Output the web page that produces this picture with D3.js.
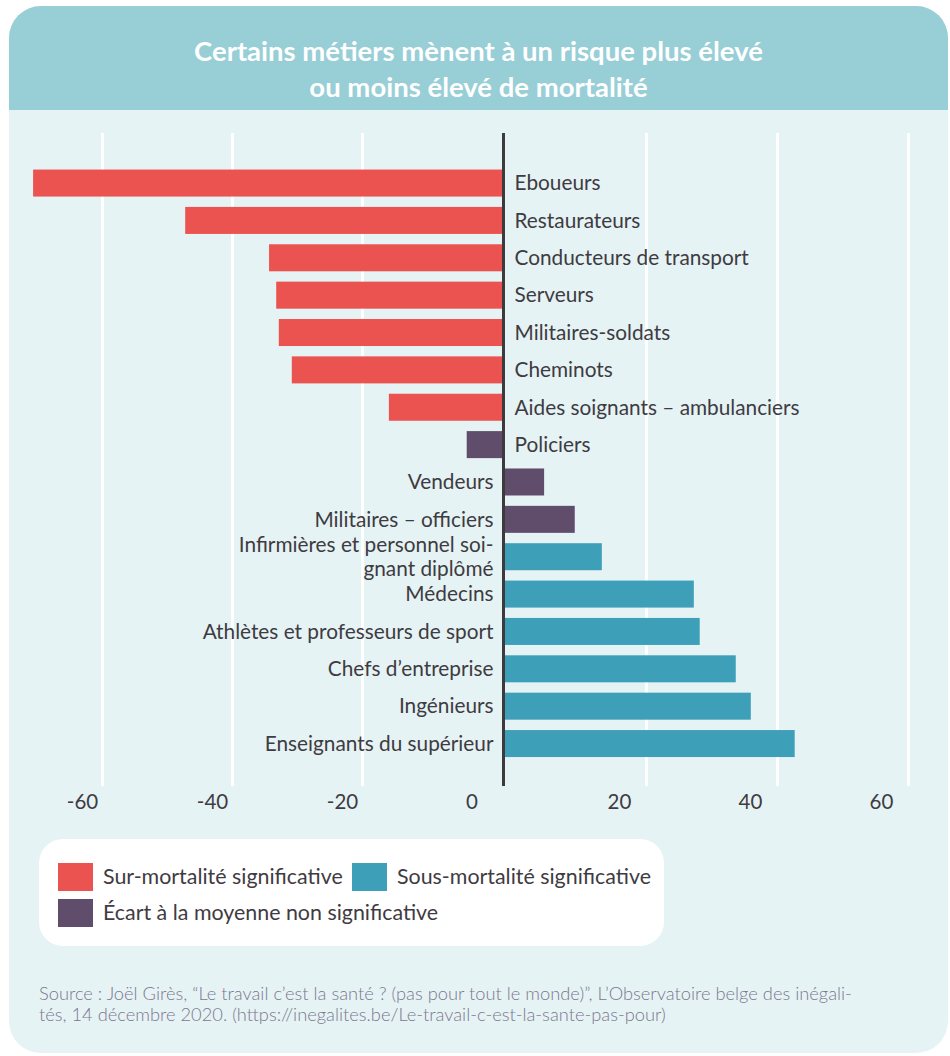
<!DOCTYPE html>
<html lang="fr">
<head>
<meta charset="utf-8">
<script src="https://cdn.jsdelivr.net/npm/d3@7"></script>
<style>
  html, body { margin: 0; padding: 0; background: #ffffff; }
  svg { display: block; }
  text { font-family: Lato, "Noto Sans", sans-serif; }
</style>
</head>
<body>
<svg id="chart" width="950" height="1056"></svg>
<script>
// ---- data ----
const categories = [
  "Eboueurs",
  "Restaurateurs",
  "Conducteurs de transport",
  "Serveurs",
  "Militaires-soldats",
  "Cheminots",
  "Aides soignants – ambulanciers",
  "Policiers",
  "Vendeurs",
  "Militaires – officiers",
  "Infirmières et personnel soi-\ngnant diplômé",
  "Médecins",
  "Athlètes et professeurs de sport",
  "Chefs d’entreprise",
  "Ingénieurs",
  "Enseignants du supérieur"
];
const values = [-70.6, -47.2, -34.3, -33.2, -32.8, -30.8, -16.2, -5.2, 5.7, 10.0, 13.8, 27.3, 28.2, 33.7, 36.0, 42.7];
const groups = ["sur","sur","sur","sur","sur","sur","sur","ns","ns","ns","sous","sous","sous","sous","sous","sous"];
const legendKeys = ["sur", "sous", "ns"];
const legendLabels = ["Sur-mortalité significative", "Sous-mortalité significative", "Écart à la moyenne non significative"];
const tickValues = [-60, -40, -20, 0, 20, 40, 60];
const titleLines = ["Certains métiers mènent à un risque plus élevé", "ou moins élevé de mortalité"];
const sourceLines = [
  "Source : Joël Girès, “Le travail c’est la santé ? (pas pour tout le monde)”, L’Observatoire belge des inégali-",
  "tés, 14 décembre 2020. (https://inegalites.be/Le-travail-c-est-la-sante-pas-pour)"
];

// ---- style ----
const colors = { sur: "#eb5350", sous: "#3e9fb9", ns: "#604d6c" };
const headerColor = "#98ced6";
const bodyColor = "#e5f3f4";
const textColor = "#3f3b42";

const svg = d3.select("#chart");

// card
const cardX = 9, cardY = 6, cardW = 939, cardH = 1047, r = 32, headerH = 104;
svg.append("rect").attr("x", cardX).attr("y", cardY).attr("width", cardW).attr("height", cardH)
  .attr("rx", r).attr("ry", r).attr("fill", bodyColor);
const hp = d3.path();
hp.moveTo(cardX, cardY + headerH);
hp.lineTo(cardX, cardY + r);
hp.arcTo(cardX, cardY, cardX + r, cardY, r);
hp.lineTo(cardX + cardW - r, cardY);
hp.arcTo(cardX + cardW, cardY, cardX + cardW, cardY + r, r);
hp.lineTo(cardX + cardW, cardY + headerH);
hp.closePath();
svg.append("path").attr("d", hp.toString()).attr("fill", headerColor);

// title
svg.append("g").selectAll("text").data(titleLines).join("text")
  .attr("x", cardX + cardW / 2)
  .attr("y", (d, i) => 51 + i * 36)
  .attr("dy", "0.35em")
  .attr("text-anchor", "middle")
  .attr("fill", "#ffffff")
  .attr("font-weight", 700)
  .attr("font-size", 27.5)
  .text(d => d);

// scales
const plotTop = 133, plotBottom = 786;
const x = d3.scaleLinear()
  .domain([-60, -20, 0, 20, 60])
  .range([102, 362, 503.5, 646, 908]);
const y = d3.scaleBand()
  .domain(categories)
  .range([159.2, 767.4])
  .padding(0.277);

// gridlines
const grid = svg.append("g").attr("transform", `translate(0,${plotBottom})`)
  .call(d3.axisBottom(x).tickValues(tickValues.filter(v => v !== 0))
    .tickSize(-(plotBottom - plotTop)).tickFormat(""));
grid.select(".domain").remove();
grid.selectAll("line").attr("stroke", "#ffffff").attr("stroke-width", 3);

// bars
svg.append("g").selectAll("rect").data(categories).join("rect")
  .attr("x", (d, i) => Math.min(x(0), x(values[i])))
  .attr("y", d => y(d))
  .attr("width", (d, i) => Math.abs(x(values[i]) - x(0)))
  .attr("height", y.bandwidth())
  .attr("fill", (d, i) => colors[groups[i]]);

// zero line
svg.append("line")
  .attr("x1", x(0)).attr("x2", x(0))
  .attr("y1", plotTop).attr("y2", plotBottom)
  .attr("stroke", "#3d3a3e").attr("stroke-width", 3);

// category labels
const labelSize = 20.8;
const labels = svg.append("g").selectAll("text").data(categories).join("text")
  .attr("x", (d, i) => values[i] < 0 ? x(0) + 11 : x(0) - 10)
  .attr("y", d => y(d) + y.bandwidth() / 2)
  .attr("text-anchor", (d, i) => values[i] < 0 ? "start" : "end")
  .attr("fill", textColor)
  .attr("font-size", labelSize);
labels.each(function(d) {
  const lines = d.split("\n");
  const t = d3.select(this);
  const lh = 1.15;
  lines.forEach((ln, k) => {
    t.append("tspan")
      .attr("x", t.attr("x"))
      .attr("dy", k === 0 ? `${0.35 - (lines.length - 1) * lh / 2}em` : `${lh}em`)
      .text(ln);
  });
});

// axis labels
const axis = svg.append("g").attr("transform", `translate(0,${plotBottom})`)
  .call(d3.axisBottom(x).tickValues(tickValues).tickSize(0).tickFormat(d => String(d)));
axis.select(".domain").remove();
axis.selectAll("text")
  .attr("y", 16).attr("dy", "0.35em")
  .attr("dx", d => d < 0 ? -20 : d === 0 ? -32 : -27)
  .attr("fill", textColor)
  .attr("font-size", 20.5)
  .attr("font-family", "Lato, 'Noto Sans', sans-serif");

// legend
svg.append("rect").attr("x", 39).attr("y", 839).attr("width", 625).attr("height", 107)
  .attr("rx", 24).attr("ry", 24).attr("fill", "#ffffff");
const legendPos = [[58, 863], [352, 863], [58, 899]];
const lg = svg.append("g").selectAll("g").data(legendKeys).join("g")
  .attr("transform", (d, i) => `translate(${legendPos[i][0]},${legendPos[i][1]})`);
lg.append("rect").attr("width", 35).attr("height", 28).attr("fill", d => colors[d]);
lg.append("text").attr("x", 45).attr("y", 14).attr("dy", "0.35em")
  .attr("fill", textColor).attr("font-size", 21.4)
  .text((d, i) => legendLabels[i]);

// source
svg.append("g").selectAll("text").data(sourceLines).join("text")
  .attr("x", 39).attr("y", (d, i) => 994 + i * 21).attr("dy", "0.35em")
  .attr("fill", "#7e7690").attr("font-size", 18.3).attr("font-weight", 300)
  .text(d => d);
</script>
</body>
</html>
